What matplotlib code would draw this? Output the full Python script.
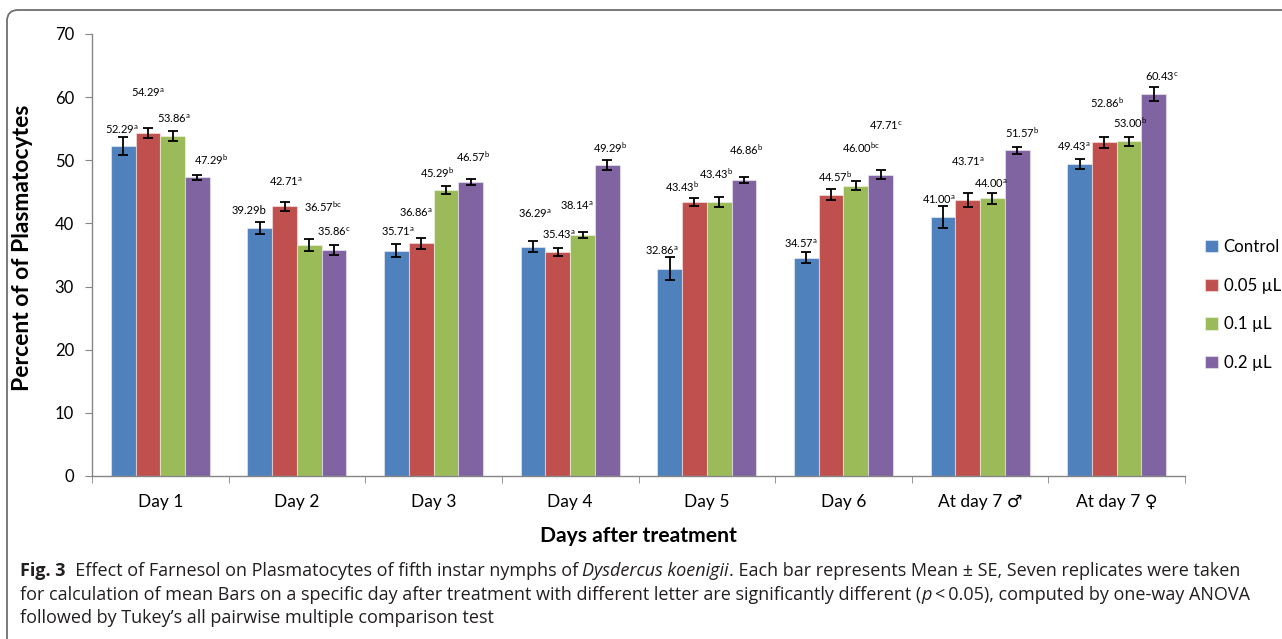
import matplotlib
matplotlib.use("Agg")
import matplotlib.pyplot as plt
from matplotlib.patches import FancyBboxPatch
import numpy as np

plt.rcParams["font.family"] = ["Lato", "DejaVu Sans"]
plt.rcParams["mathtext.fontset"] = "custom"
plt.rcParams["mathtext.rm"] = "Lato"

categories = ["Day 1", "Day 2", "Day 3", "Day 4", "Day 5", "Day 6",
              "At day 7 \u2642", "At day 7 \u2640"]
series_names = ["Control", "0.05 \u00b5L", "0.1 \u00b5L", "0.2 \u00b5L"]

control = [52.29, 39.29, 35.71, 36.29, 32.86, 34.57, 41.00, 49.43]
dose_005 = [54.29, 42.71, 36.86, 35.43, 43.43, 44.57, 43.71, 52.86]
dose_01 = [53.86, 36.57, 45.29, 38.14, 43.43, 46.00, 44.00, 53.00]
dose_02 = [47.29, 35.86, 46.57, 49.29, 46.86, 47.71, 51.57, 60.43]

se_control = [1.4, 1.0, 1.1, 0.85, 1.8, 0.9, 1.7, 0.75]
se_005 = [0.8, 0.7, 0.85, 0.65, 0.6, 0.9, 1.1, 0.85]
se_01 = [0.8, 1.0, 0.7, 0.45, 0.8, 0.65, 0.85, 0.7]
se_02 = [0.4, 0.8, 0.5, 0.8, 0.5, 0.7, 0.55, 1.1]

letters_control = ["a", "b", "a", "a", "a", "a", "a", "a"]
letters_005 = ["a", "a", "a", "a", "b", "b", "a", "b"]
letters_01 = ["a", "bc", "b", "a", "b", "bc", "a", "b"]
letters_02 = ["b", "c", "b", "b", "b", "c", "b", "c"]
# (series, day) whose letter is written inline rather than raised
inline_letters = {(0, 1)}

means = [control, dose_005, dose_01, dose_02]
errors = [se_control, se_005, se_01, se_02]
letters = [letters_control, letters_005, letters_01, letters_02]
colors = ["#4F81BD", "#C0504D", "#9BBB59", "#8064A2"]

# hand-placed label spots: x shift in category units, y in data units
label_dx = [
    [-0.01, -0.08, 0.01, 0.01, -0.06, -0.04, -0.03, -0.04],
    [0.0, 0.01, -0.04, 0.01, -0.09, 0.03, 0.0, 0.02],
    [0.01, 0.10, -0.06, -0.04, -0.02, 0.04, -0.01, 0.01],
    [0.10, 0.0, 0.02, 0.02, 0.02, 0.04, 0.04, 0.06],
]
label_y = [
    [54.8, 42.0, 38.6, 41.6, 35.6, 36.8, 43.8, 52.1],
    [60.7, 46.6, 41.7, 38.2, 45.8, 47.4, 49.8, 59.1],
    [56.6, 42.7, 48.0, 42.8, 47.9, 52.0, 46.3, 55.9],
    [50.1, 38.6, 50.6, 52.0, 51.7, 55.5, 54.4, 63.2],
]

W, H = 1282, 639
fig = plt.figure(figsize=(W / 100, H / 100), dpi=100)

# outer rounded frame, open on the right and bottom
frame_ax = fig.add_axes([0, 0, 1, 1])
frame_ax.set_xlim(0, W)
frame_ax.set_ylim(H, 0)
frame_ax.axis("off")
frame_ax.add_patch(FancyBboxPatch((7, 10), W + 40, H + 40,
                                  boxstyle="round,pad=0,rounding_size=11",
                                  fill=False, edgecolor="#707070", linewidth=1.3))

ax = fig.add_axes([92 / W, 1 - 476 / H, (1185 - 92) / W, (476 - 34) / H])
ax.set_zorder(2)
ax.patch.set_alpha(0)

x = np.arange(len(categories))
bar_w = 0.181
offsets = (np.arange(4) - 1.5) * bar_w

for s in range(4):
    ax.bar(x + offsets[s], means[s], bar_w, color=colors[s],
           edgecolor=(1, 1, 1, 0.45), linewidth=0.8, label=series_names[s], zorder=2)
    ax.errorbar(x + offsets[s], means[s], yerr=errors[s], fmt="none",
                ecolor="black", elinewidth=1.3, capsize=3.6, capthick=1.3, zorder=3)
    for d in range(len(categories)):
        val = f"{means[s][d]:.2f}"
        if (s, d) in inline_letters:
            txt = val + letters[s][d]
        else:
            txt = val + r"$^{\mathrm{" + letters[s][d] + "}}$"
        ax.text(x[d] + offsets[s] + label_dx[s][d], label_y[s][d], txt,
                ha="center", va="center", fontsize=8, color="black", zorder=4)

axis_grey = "#868686"
ax.set_xlim(-0.5, len(categories) - 0.5)
ax.set_ylim(0, 70)
ax.set_yticks(np.arange(0, 71, 10))
for side in ["top", "right"]:
    ax.spines[side].set_visible(False)
for side in ["left", "bottom"]:
    ax.spines[side].set_color(axis_grey)
    ax.spines[side].set_linewidth(1.0)
ax.tick_params(axis="y", direction="out", length=5, color=axis_grey,
               labelsize=12, pad=8)
ax.set_xticks(x)
ax.set_xticklabels(categories)
ax.set_xticks(np.arange(-0.5, len(categories)), minor=True)
ax.tick_params(axis="x", which="major", length=0, labelsize=12.5, pad=13)
ax.tick_params(axis="x", which="minor", direction="out", length=5, color=axis_grey)

ax.set_ylabel("Percent of of Plasmatocytes", fontsize=16.5, fontweight="bold")
ax.yaxis.set_label_coords((33 - 92) / 1093, (476 - 248) / 442)
fig.text(638 / W, 1 - 536 / H, "Days after treatment", ha="center", va="center",
         fontsize=15.2, fontweight="bold")

fig.legend(loc="center left", bbox_to_anchor=(1197 / W, 1 - 305 / H), frameon=False,
           fontsize=12.2, handlelength=0.72, handleheight=0.72, handletextpad=0.35,
           labelspacing=1.35, borderpad=0)

# caption, written run by run so bold and italic parts sit inline
cap_color = "#231f20"
cap_font = ["Open Sans", "DejaVu Sans"]
cap_size = 13.0
caption_lines = [
    [("Fig. 3", "bold", "normal"), ("  Effect of Farnesol on Plasmatocytes of fifth instar nymphs of ", "normal", "normal"),
     ("Dysdercus koenigii", "normal", "italic"),
     (". Each bar represents Mean \u00b1 SE, Seven replicates were taken", "normal", "normal")],
    [("for calculation of mean Bars on a specific day after treatment with different letter are significantly different (", "normal", "normal"),
     ("p", "normal", "italic"), ("\u2009<\u20090.05), computed by one-way ANOVA", "normal", "normal")],
    [("followed by Tukey\u2019s all pairwise multiple comparison test", "normal", "normal")],
]
line_y = [569, 593, 616]

fig.canvas.draw()
renderer = fig.canvas.get_renderer()
for runs, yy in zip(caption_lines, line_y):
    cx = 20
    for text, weight, style in runs:
        t = fig.text(cx / W, 1 - yy / H, text, ha="left", va="center_baseline",
                     fontsize=cap_size, fontweight=weight, fontstyle=style,
                     family=cap_font, color=cap_color)
        cx += t.get_window_extent(renderer).width

fig.savefig("out.png", dpi=100)
